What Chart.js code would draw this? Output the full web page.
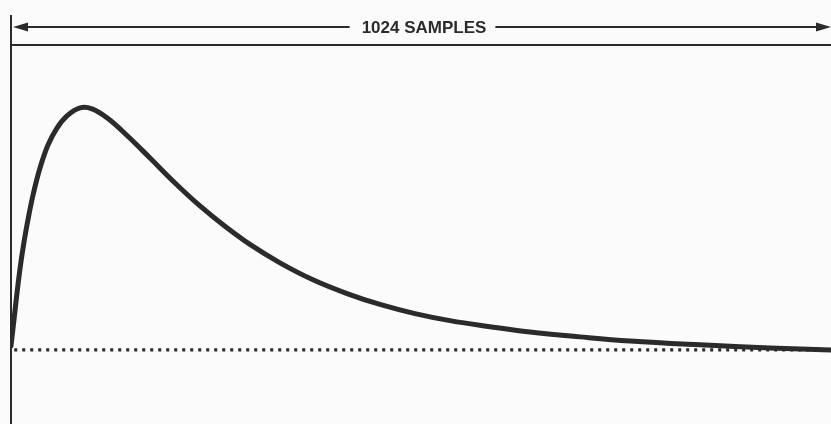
<!DOCTYPE html>
<html>
<head>
<meta charset="utf-8">
<title>1024 SAMPLES</title>
<script src="https://cdn.jsdelivr.net/npm/chart.js@4/dist/chart.umd.min.js"></script>
<style>
  html, body { margin: 0; padding: 0; background: #fbfbfb; }
  #wrap { width: 831px; height: 424px; }
</style>
</head>
<body>
<div id="wrap"><canvas id="c" width="831" height="424"></canvas></div>
<script>
// Sample index of each point on the response curve (1024-sample record)
const sampleIndex = [0, 3.7, 8.7, 13.7, 20, 27.5, 36.2, 46.2, 57.4, 69.9, 86.2, 101.2, 119.9, 144.9, 173.6, 204.8, 236, 267.2, 298.4, 335.9, 377.1, 419.6, 460.8, 504.5, 548.2, 598.2, 648.1, 710.6, 773, 860.4, 947.8, 1024];
// Amplitude at each sample, peak normalised to 100
const amplitude = [1.6, 12.4, 26.9, 39.3, 51.7, 64, 75.2, 84.7, 91.7, 96.7, 100, 99.6, 95.9, 88.6, 79.3, 69, 59.5, 51.1, 43.6, 36, 29, 23.3, 18.8, 15, 12.1, 9.6, 7.4, 5.4, 3.7, 2.1, 0.8, 0];
// Dotted zero reference
const baselineIndex = [4, 1024];
const baselineLevel = [0, 0];
// Record length shown on the dimension arrow
const recordLength = 1024;
const recordLabel = '1024 SAMPLES';

const ink = '#2b2b2b';

const curve = sampleIndex.map((s, i) => ({ x: s, y: amplitude[i] }));
const baseline = baselineIndex.map((s, i) => ({ x: s, y: baselineLevel[i] }));

// Frame lines and the "1024 SAMPLES" dimension arrow above the plot
const framePlugin = {
  id: 'frame',
  afterDraw(chart) {
    const ctx = chart.ctx;
    const xs = chart.scales.x;
    const area = chart.chartArea;
    const x0 = xs.getPixelForValue(0);
    const x1 = xs.getPixelForValue(recordLength);
    const arrowY = 27;
    ctx.save();
    ctx.strokeStyle = ink;
    ctx.fillStyle = ink;
    ctx.lineCap = 'butt';

    // left edge of the record
    ctx.lineWidth = 2;
    ctx.beginPath();
    ctx.moveTo(x0, 15);
    ctx.lineTo(x0, area.bottom);
    ctx.stroke();

    // top border of the plot box
    ctx.lineWidth = 2;
    ctx.beginPath();
    ctx.moveTo(x0, area.top);
    ctx.lineTo(x1, area.top);
    ctx.stroke();

    // label
    ctx.font = 'bold 17px "Liberation Sans", Arial, sans-serif';
    ctx.textAlign = 'center';
    ctx.textBaseline = 'middle';
    const cx = (x0 + x1) / 2 + 3;
    ctx.fillText(recordLabel, cx, arrowY + 1);
    const half = ctx.measureText(recordLabel).width / 2;

    // dimension line halves
    ctx.lineWidth = 2;
    ctx.beginPath();
    ctx.moveTo(x0 + 8, arrowY);
    ctx.lineTo(cx - half - 12, arrowY);
    ctx.moveTo(cx + half + 9, arrowY);
    ctx.lineTo(x1 - 8, arrowY);
    ctx.stroke();

    // arrow heads
    ctx.beginPath();
    ctx.moveTo(x0 + 2, arrowY);
    ctx.lineTo(x0 + 17, arrowY - 4.5);
    ctx.lineTo(x0 + 17, arrowY + 4.5);
    ctx.closePath();
    ctx.fill();
    ctx.beginPath();
    ctx.moveTo(x1, arrowY);
    ctx.lineTo(x1 - 15, arrowY - 4.5);
    ctx.lineTo(x1 - 15, arrowY + 4.5);
    ctx.closePath();
    ctx.fill();
    ctx.restore();
  }
};

new Chart(document.getElementById('c'), {
  type: 'line',
  data: {
    datasets: [
      {
        data: baseline,
        borderColor: ink,
        borderWidth: 3.2,
        borderDash: [3, 5],
        pointRadius: 0,
        tension: 0
      },
      {
        data: curve,
        borderColor: ink,
        borderWidth: 5,
        pointRadius: 0,
        tension: 0.4,
        borderCapStyle: 'round',
        borderJoinStyle: 'round'
      }
    ]
  },
  options: {
    responsive: false,
    animation: false,
    layout: { padding: { left: 11, right: 0, top: 45, bottom: 0 } },
    plugins: { legend: { display: false }, tooltip: { enabled: false } },
    scales: {
      x: { type: 'linear', min: 0, max: recordLength, display: false },
      y: { min: -30.6, max: 126, display: false }
    }
  },
  plugins: [framePlugin]
});
</script>
</body>
</html>
